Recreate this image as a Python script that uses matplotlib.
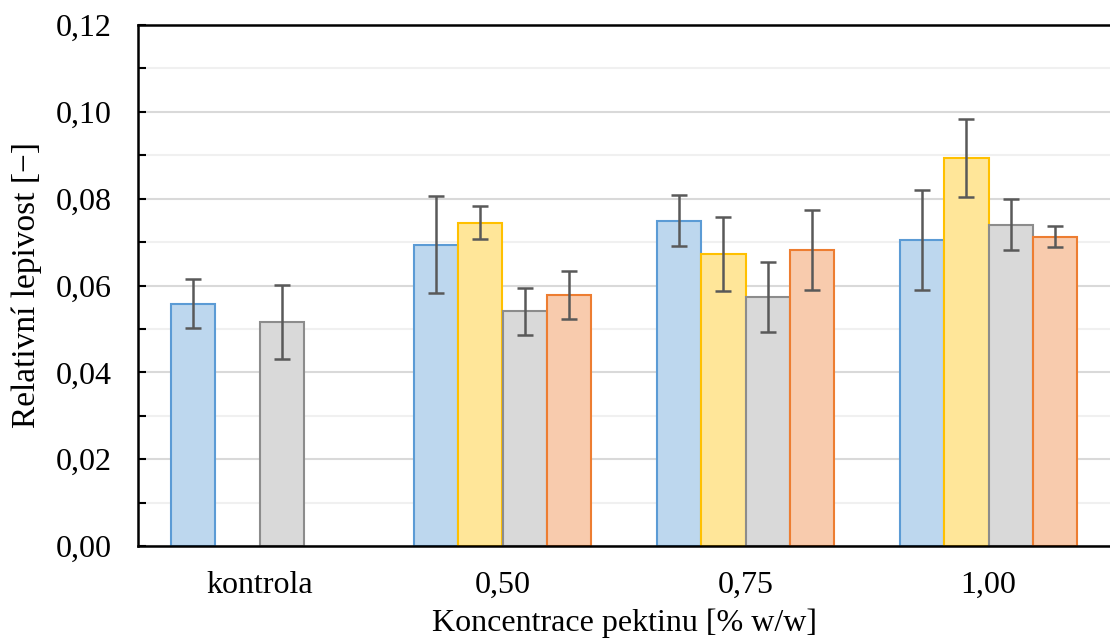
import numpy as np
import matplotlib.pyplot as plt
from matplotlib.ticker import MultipleLocator, FuncFormatter

plt.rcParams['font.family'] = ['Liberation Serif', 'DejaVu Serif']

categories = ['kontrola', '0,50', '0,75', '1,00']

# four series per concentration (control has only two)
s1 = [0.0558, 0.0694, 0.0749, 0.0705]
s2 = [np.nan, 0.0744, 0.0673, 0.0894]
s3 = [0.0516, 0.0541, 0.0574, 0.0740]
s4 = [np.nan, 0.0578, 0.0682, 0.0712]

e1 = [0.0056, 0.0111, 0.0059, 0.0115]
e2 = [np.nan, 0.0038, 0.0085, 0.0090]
e3 = [0.0085, 0.0054, 0.0080, 0.0059]
e4 = [np.nan, 0.0055, 0.0093, 0.0024]

fills = ['#BDD7EE', '#FFE699', '#D9D9D9', '#F8CBAD']
edges = ['#5B9BD5', '#FFC000', '#8C8C8C', '#ED7D31']

fig = plt.figure(figsize=(11.1, 6.43), dpi=100)
ax = fig.add_axes([138/1110, 1 - 546/643, 1 - 138/1110, (546 - 25)/643])

x = np.arange(len(categories))
w = 0.183
series = [s1, s2, s3, s4]
errs = [e1, e2, e3, e4]
for i in range(4):
    pos = x + (i - 1.5) * w
    ax.bar(pos, series[i], width=w, color=fills[i], edgecolor=edges[i],
           linewidth=1.5, zorder=2)
    ax.errorbar(pos, series[i], yerr=errs[i], fmt='none', ecolor='#595959',
                elinewidth=1.8, capsize=6, capthick=1.8, zorder=3)

ax.set_xlim(-0.5, 3.5)
ax.set_ylim(0, 0.12)
ax.yaxis.set_major_locator(MultipleLocator(0.02))
ax.yaxis.set_minor_locator(MultipleLocator(0.01))
ax.yaxis.set_major_formatter(FuncFormatter(lambda v, p: f'{v:.2f}'.replace('.', ',')))
ax.grid(axis='y', which='major', color='#D9D9D9', linewidth=1.5, zorder=0)
ax.grid(axis='y', which='minor', color='#F0F0F0', linewidth=1.5, zorder=0)
ax.set_axisbelow(True)

ax.set_xticks(x)
ax.set_xticklabels(categories)
ax.tick_params(axis='x', length=0, pad=18, labelsize=23)
ax.tick_params(axis='y', which='both', direction='in', length=6, width=1.5,
               labelsize=23, pad=19)

for s in ['left', 'bottom', 'top']:
    ax.spines[s].set_linewidth(1.8)
    ax.spines[s].set_color('black')
ax.spines['right'].set_visible(False)

ax.set_ylabel('Relativní lepivost [−]', fontsize=24, labelpad=10)
ax.set_xlabel('Koncentrace pektinu [% w/w]', fontsize=23, labelpad=6)

fig.savefig('out.png', dpi=100)
